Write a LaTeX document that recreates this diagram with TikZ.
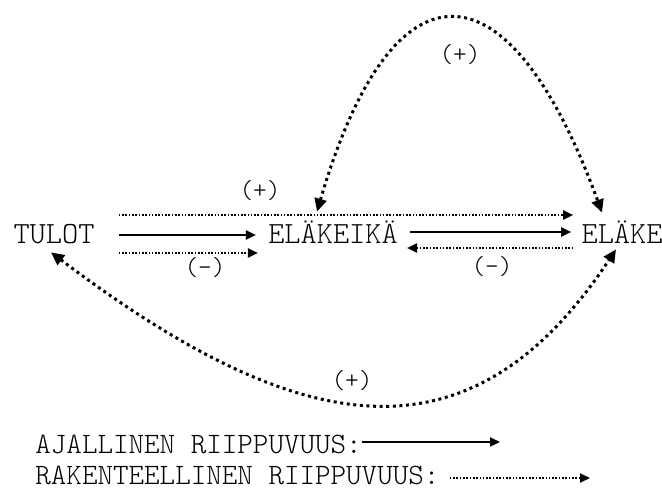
\documentclass[tikz,border=0pt]{standalone}
\usepackage{fontspec}
\setmonofont{Latin Modern Mono Light}
\usetikzlibrary{arrows.meta, positioning}
\tikzset{
  every picture/.style={font=\ttfamily},
  term/.style={inner sep=0pt, text height=8pt, text depth=0pt, font=\ttfamily\fontsize{15.4}{18}\selectfont},
  sign/.style={inner sep=0pt, font=\ttfamily\fontsize{13}{15}\selectfont},
  legend/.style={inner sep=0pt, anchor=west, text height=8pt, text depth=0pt, font=\ttfamily\fontsize{14.8}{17}\selectfont},
  timearrow/.style={-{Triangle[length=5pt, width=4.5pt]}, line width=1pt},
  structarrow/.style={-{Triangle[length=5pt, width=4.5pt]}, line width=1pt, dash pattern=on 0.8pt off 0.85pt},
  bigarc/.style={{Triangle[length=6.5pt, width=6pt]}-{Triangle[length=6.5pt, width=6pt]}, line width=1.5pt, dash pattern=on 1.5pt off 1.8pt},
}
\begin{document}
\begin{tikzpicture}[x=0.5pt, y=-0.5pt]
  \useasboundingbox (0,0) rectangle (662,496);
  % muuttujat
  \node[term] (tulot) at (54,235) {TULOT};
  \node[term] (ikae) at (333,235) {ELÄKEIKÄ};
  \node[term] (elake) at (622,235) {ELÄKE};
  % riippuvuudet
  \draw[structarrow] ([xshift=12pt, yshift=10pt]tulot.east) -- ([xshift=-4pt, yshift=10pt]elake.west);
  \draw[timearrow] ([xshift=12pt]tulot.east) -- ([xshift=-6pt]ikae.west);
  \draw[structarrow] ([xshift=12pt, yshift=-9pt]tulot.east) -- ([xshift=-5pt, yshift=-9pt]ikae.west);
  \draw[timearrow] ([xshift=6pt, yshift=1.5pt]ikae.east) -- ([xshift=-5pt, yshift=1.5pt]elake.west);
  \draw[structarrow] ([xshift=-4pt, yshift=-6.5pt]elake.west) -- ([xshift=4.5pt, yshift=-6.5pt]ikae.east);
  \draw[bigarc] ([xshift=-8pt, yshift=7.5pt]ikae.north) .. controls (392,-45) and (508,-45) .. ([xshift=-10pt, yshift=7pt]elake.north);
  \draw[bigarc] ([xshift=-1.5pt, yshift=-4.5pt]tulot.south) .. controls (300,440) and (470,470) .. ([xshift=-3pt, yshift=-3pt]elake.south);
  % etumerkit
  \node[sign] (p1) at (260,191) {(+)};
  \node[sign] (m1) at (205,268) {(-)};
  \node[sign] (m2) at (492,267) {(-)};
  \node[sign] (p2) at (460,55) {(+)};
  \node[sign] (p3) at (352,381) {(+)};
  % selite
  \node[legend] (ajal) at (35,445) {AJALLINEN RIIPPUVUUS:};
  \node[legend] (rak) at (35,476) {RAKENTEELLINEN RIIPPUVUUS:};
  \coordinate (ajalend) at (500,442);
  \coordinate (rakend) at (590,478);
  \draw[timearrow] ([yshift=1.5pt]ajal.east) -- (ajalend);
  \draw[structarrow] ([xshift=5pt, yshift=-1pt]rak.east) -- (rakend);
\end{tikzpicture}
\end{document}
